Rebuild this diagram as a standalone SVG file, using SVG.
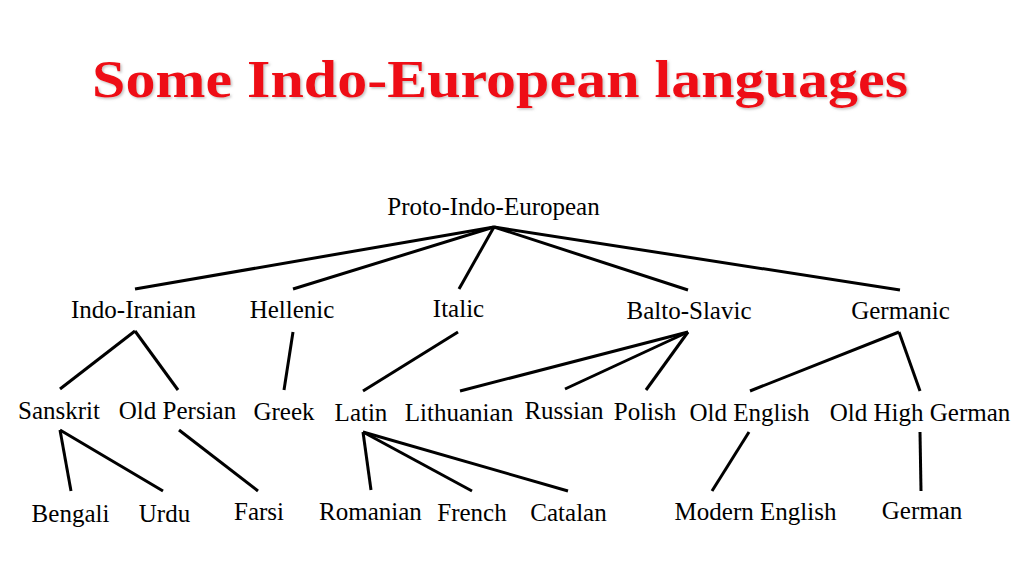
<svg xmlns="http://www.w3.org/2000/svg" width="1024" height="576" viewBox="0 0 1024 576">
<defs>
<style>
.lbl{font-family:"Liberation Serif","Times New Roman",serif;font-size:25px;fill:#000;text-anchor:middle}
.title{font-family:"Liberation Serif","Times New Roman",serif;font-size:52px;font-weight:bold;fill:#ee0f14;text-anchor:middle}
.edges line{stroke:#000;stroke-width:3;stroke-linecap:butt}
</style>
<filter id="sh" x="-5%" y="-20%" width="110%" height="140%">
<feDropShadow dx="1.5" dy="1.5" stdDeviation="1" flood-color="#888" flood-opacity="0.5"/>
</filter>
</defs>
<rect width="1024" height="576" fill="#fff"/>
<text class="title" x="500" y="97" textLength="816" lengthAdjust="spacingAndGlyphs" filter="url(#sh)">Some Indo-European languages</text>
<g class="edges" id="connectors">
<line x1="494" y1="227" x2="135" y2="289"/>
<line x1="494" y1="227" x2="293" y2="289"/>
<line x1="494" y1="227" x2="459" y2="289"/>
<line x1="494" y1="227" x2="688" y2="290"/>
<line x1="494" y1="227" x2="900" y2="290"/>
<line x1="135" y1="331" x2="60" y2="389"/>
<line x1="135" y1="331" x2="178" y2="390"/>
<line x1="293" y1="332" x2="284" y2="390"/>
<line x1="458" y1="332" x2="363" y2="391"/>
<line x1="688" y1="332" x2="460" y2="391"/>
<line x1="688" y1="332" x2="565" y2="389"/>
<line x1="688" y1="332" x2="646" y2="390"/>
<line x1="899" y1="332" x2="750" y2="391"/>
<line x1="899" y1="332" x2="920" y2="391"/>
<line x1="60" y1="430" x2="71" y2="491"/>
<line x1="60" y1="430" x2="163" y2="491"/>
<line x1="179" y1="430" x2="258" y2="491"/>
<line x1="363" y1="432" x2="371" y2="490"/>
<line x1="363" y1="432" x2="472" y2="491"/>
<line x1="363" y1="432" x2="568" y2="491"/>
<line x1="749" y1="432" x2="712" y2="491"/>
<line x1="920" y1="432" x2="921" y2="491"/>
</g>
<g id="n-pie"><text class="lbl" x="493.5" y="215">Proto-Indo-European</text></g>
<g id="n-indoiranian"><text class="lbl" x="133.5" y="318">Indo-Iranian</text></g>
<g id="n-hellenic"><text class="lbl" x="292" y="318">Hellenic</text></g>
<g id="n-italic"><text class="lbl" x="458.5" y="317">Italic</text></g>
<g id="n-baltoslavic"><text class="lbl" x="689" y="319">Balto-Slavic</text></g>
<g id="n-germanic"><text class="lbl" x="900.5" y="319">Germanic</text></g>
<g id="n-sanskrit"><text class="lbl" x="59" y="419">Sanskrit</text></g>
<g id="n-oldpersian"><text class="lbl" x="177.5" y="419">Old Persian</text></g>
<g id="n-greek"><text class="lbl" x="284" y="420">Greek</text></g>
<g id="n-latin"><text class="lbl" x="361" y="421">Latin</text></g>
<g id="n-lithuanian"><text class="lbl" x="459" y="421">Lithuanian</text></g>
<g id="n-russian"><text class="lbl" x="564" y="419">Russian</text></g>
<g id="n-polish"><text class="lbl" x="645" y="420">Polish</text></g>
<g id="n-oldenglish"><text class="lbl" x="749.5" y="421">Old English</text></g>
<g id="n-oldhighgerman"><text class="lbl" x="920" y="421">Old High German</text></g>
<g id="n-bengali"><text class="lbl" x="70.5" y="522">Bengali</text></g>
<g id="n-urdu"><text class="lbl" x="164.5" y="522">Urdu</text></g>
<g id="n-farsi"><text class="lbl" x="259" y="520">Farsi</text></g>
<g id="n-romanian"><text class="lbl" x="370.5" y="520">Romanian</text></g>
<g id="n-french"><text class="lbl" x="472" y="521">French</text></g>
<g id="n-catalan"><text class="lbl" x="568.5" y="521">Catalan</text></g>
<g id="n-modernenglish"><text class="lbl" x="755.5" y="520">Modern English</text></g>
<g id="n-german"><text class="lbl" x="922" y="519">German</text></g>
</svg>
